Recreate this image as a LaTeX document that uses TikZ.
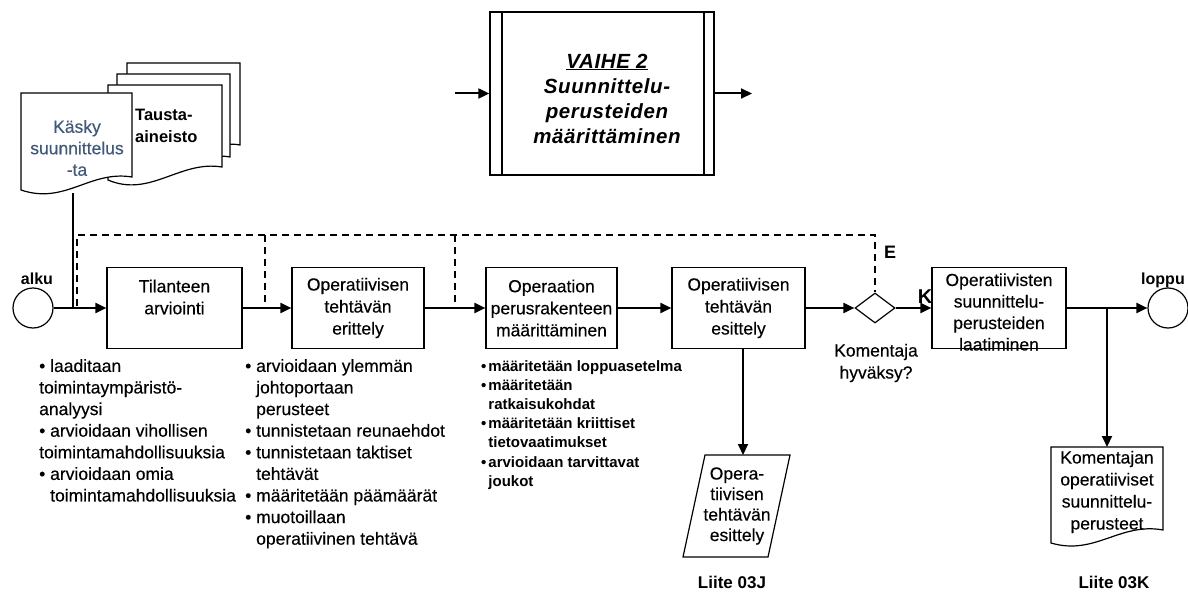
\documentclass[tikz,border=0pt]{standalone}
\usepackage{fontspec}
\setmainfont{Liberation Sans}
\newfontfamily\heavy{Liberation Sans}[FakeBold=0.3]
\usetikzlibrary{arrows.meta,shapes.geometric}
\definecolor{docblue}{RGB}{62,88,128}
\newcommand{\bul}{\textbullet\ }
\newcommand{\ind}{\hphantom{\textbullet\ }}
\newcommand{\bulb}{\textbullet\hspace{2pt}}
\newcommand{\indb}{\hphantom{\textbullet}\hspace{2pt}}
\begin{document}
\begin{tikzpicture}[x=1pt,y=-1pt,
  txt/.style={inner sep=0pt,align=center,font=\heavy\fontsize{17.5}{22}\selectfont},
  stepbox/.style={draw,line width=1.2pt,inner sep=0pt,minimum height=81pt},
  conn/.style={line width=2pt},
  arr/.style={line width=2pt,-{Triangle[length=11pt,width=10pt]}},
  dashline/.style={line width=2pt,dash pattern=on 7pt off 5pt},
  shape line/.style={line width=1.2pt,fill=white},
  endpt/.style={circle,draw,line width=1.2pt,minimum size=40pt,inner sep=0pt},
  lbl/.style={inner sep=0pt,font=\fontsize{16}{20}\selectfont\bfseries},
  listtxt/.style={inner sep=0pt,align=left,anchor=north west,font=\heavy\fontsize{17.5}{21.6}\selectfont},
]
\useasboundingbox (0,0) rectangle (1188,599);

% phase box with side bars
\node[draw,line width=1.3pt,minimum width=224pt,minimum height=163pt,inner sep=0pt] (vaihe) at (602,93.5) {};
\draw[line width=1.2pt] (502,12) -- (502,175) (704,12) -- (704,175);
\node[inner sep=0pt,align=center,font=\fontsize{20.5}{25}\selectfont\bfseries\itshape\addfontfeature{LetterSpace=3}] (vaiheT) at (607,98.5)
  {\underline{VAIHE 2}\\Suunnittelu-\\perusteiden\\määrittäminen};
\coordinate (vin) at (455,93.5);
\coordinate (vout) at (752,93.5);
\draw[arr] (vin) -- (vaihe.west);
\draw[arr] (vaihe.east) -- (vout);

% background material: stacked pages
\draw[shape line] (127,63) -- (240,63) -- (240,145) .. controls (205,138) and (165,178) .. (127,158) -- cycle;
\draw[shape line] (117,74) -- (230,74) -- (230,157) .. controls (195,150) and (155,190) .. (117,170) -- cycle;
\draw[shape line] (108,85) -- (222,85) -- (222,167) .. controls (180,160) and (150,198) .. (108,180) -- cycle;
\node[inner sep=0pt,align=left,font=\fontsize{16.5}{22}\selectfont\bfseries,anchor=west] (tausta) at (135,126) {Tausta-\\aineisto};

% order document
\draw[shape line] (21,93) -- (132,93) -- (132,177) .. controls (90,170) and (65,205) .. (21,190) -- cycle;
\node[txt,text=docblue,font=\heavy\fontsize{17.5}{21.5}\selectfont] (kasky) at (77,148) {Käsky\\suunnittelus\\-ta};
\coordinate (kb) at (73,193);
\coordinate (j1) at (73,308);

% start and end
\node[endpt] (alku) at (33,308) {};
\node[lbl,anchor=base] (alkuT) at (37,284) {alku};
\node[endpt] (loppu) at (1168,308) {};
\node[lbl,anchor=base] (loppuT) at (1163,284) {loppu};

% process boxes
\node[stepbox,minimum width=135pt] (tila) at (174.5,308) {};
\node[txt] (tilaT) at (174.5,297) {Tilanteen\\arviointi};
\node[stepbox,minimum width=132pt] (erit) at (358,308) {};
\node[txt] (eritT) at (358,308) {Operatiivisen\\tehtävän\\erittely};
\node[stepbox,minimum width=131pt] (opra) at (551.5,308) {};
\node[txt] (opraT) at (551.5,308) {Operaation\\perusrakenteen\\määrittäminen};
\node[stepbox,minimum width=133pt] (esit) at (738.5,308) {};
\node[txt] (esitT) at (738.5,308) {Operatiivisen\\tehtävän\\esittely};
\node[stepbox,minimum width=134pt] (laat) at (999,308) {};
\node[txt,font=\heavy\fontsize{17.5}{21.5}\selectfont] (laatT) at (999,312) {Operatiivisten\\suunnittelu-\\perusteiden\\laatiminen};

% decision
\node[diamond,draw,line width=1.2pt,minimum width=40pt,minimum height=30pt,inner sep=0pt] (dia) at (875,308) {};
\node[txt] (diaT) at (876,363) {Komentaja\\hyväksy?};
\node[inner sep=0pt,font=\fontsize{18}{20}\selectfont\bfseries] (eT) at (890,252) {E};
\node[inner sep=0pt,font=\fontsize{20}{20}\selectfont\bfseries] (kT) at (925,297) {K};

% main flow
\draw[conn] (kb) -- (j1);
\draw[arr] (alku) -- (tila);
\draw[arr] (tila) -- (erit);
\draw[arr] (erit) -- (opra);
\draw[arr] (opra) -- (esit);
\draw[arr] (esit) -- (dia);
\draw[arr] (dia) -- (laat);
\draw[arr] (laat) -- (loppu);

% return paths
\coordinate (r0) at (77,306);
\coordinate (r1) at (265,308);
\coordinate (r2) at (455,308);
\draw[dashline] (r0) -- (77,235) -- (875,235) -- (dia.north);
\draw[dashline] (265,235) -- (r1);
\draw[dashline] (455,235) -- (r2);

% annex outputs
\coordinate (esitOut) at (743,349);
\coordinate (paraIn) at (743,455);
\draw[arr] (esitOut) -- (paraIn);
\draw[line width=1.2pt] (705,455) -- (790,455) -- (768,557) -- (683,557) -- cycle;
\node[txt,font=\heavy\fontsize{17.5}{20.5}\selectfont] (paraT) at (737,506) {Opera-\\tiivisen\\tehtävän\\esittely};
\node[lbl,font=\fontsize{17}{20}\selectfont\bfseries] (liiteJ) at (732,582) {Liite 03J};

\coordinate (j2) at (1107,308);
\coordinate (komIn) at (1107,447);
\draw[arr] (j2) -- (komIn);
\draw[line width=1.2pt] (1051,447) -- (1163,447) -- (1163,530) .. controls (1120,522) and (1095,556) .. (1051,543) -- cycle;
\node[txt,font=\heavy\fontsize{17.5}{22}\selectfont] (komT) at (1107,492) {Komentajan\\operatiiviset\\suunnittelu-\\perusteet};
\node[lbl,font=\fontsize{17}{20}\selectfont\bfseries] (liiteK) at (1114,582) {Liite 03K};

% task lists
\node[listtxt] (list1) at (39,359)
  {\bul laaditaan\\toimintaympäristö-\\analyysi\\\bul arvioidaan vihollisen\\toimintamahdollisuuksia\\\bul arvioidaan omia\\\ind toimintamahdollisuuksia};
\node[listtxt] (list2) at (245,359)
  {\bul arvioidaan ylemmän\\\ind johtoportaan\\\ind perusteet\\\bul tunnistetaan reunaehdot\\\bul tunnistetaan taktiset\\\ind tehtävät\\\bul määritetään päämäärät\\\bul muotoillaan\\\ind operatiivinen tehtävä};
\node[inner sep=0pt,align=left,anchor=north west,font=\fontsize{15}{19.2}\selectfont\bfseries] (list3) at (481,360)
  {\bulb määritetään loppuasetelma\\\bulb määritetään\\\indb ratkaisukohdat\\\bulb määritetään kriittiset\\\indb tietovaatimukset\\\bulb arvioidaan tarvittavat\\\indb joukot};
\end{tikzpicture}
\end{document}
